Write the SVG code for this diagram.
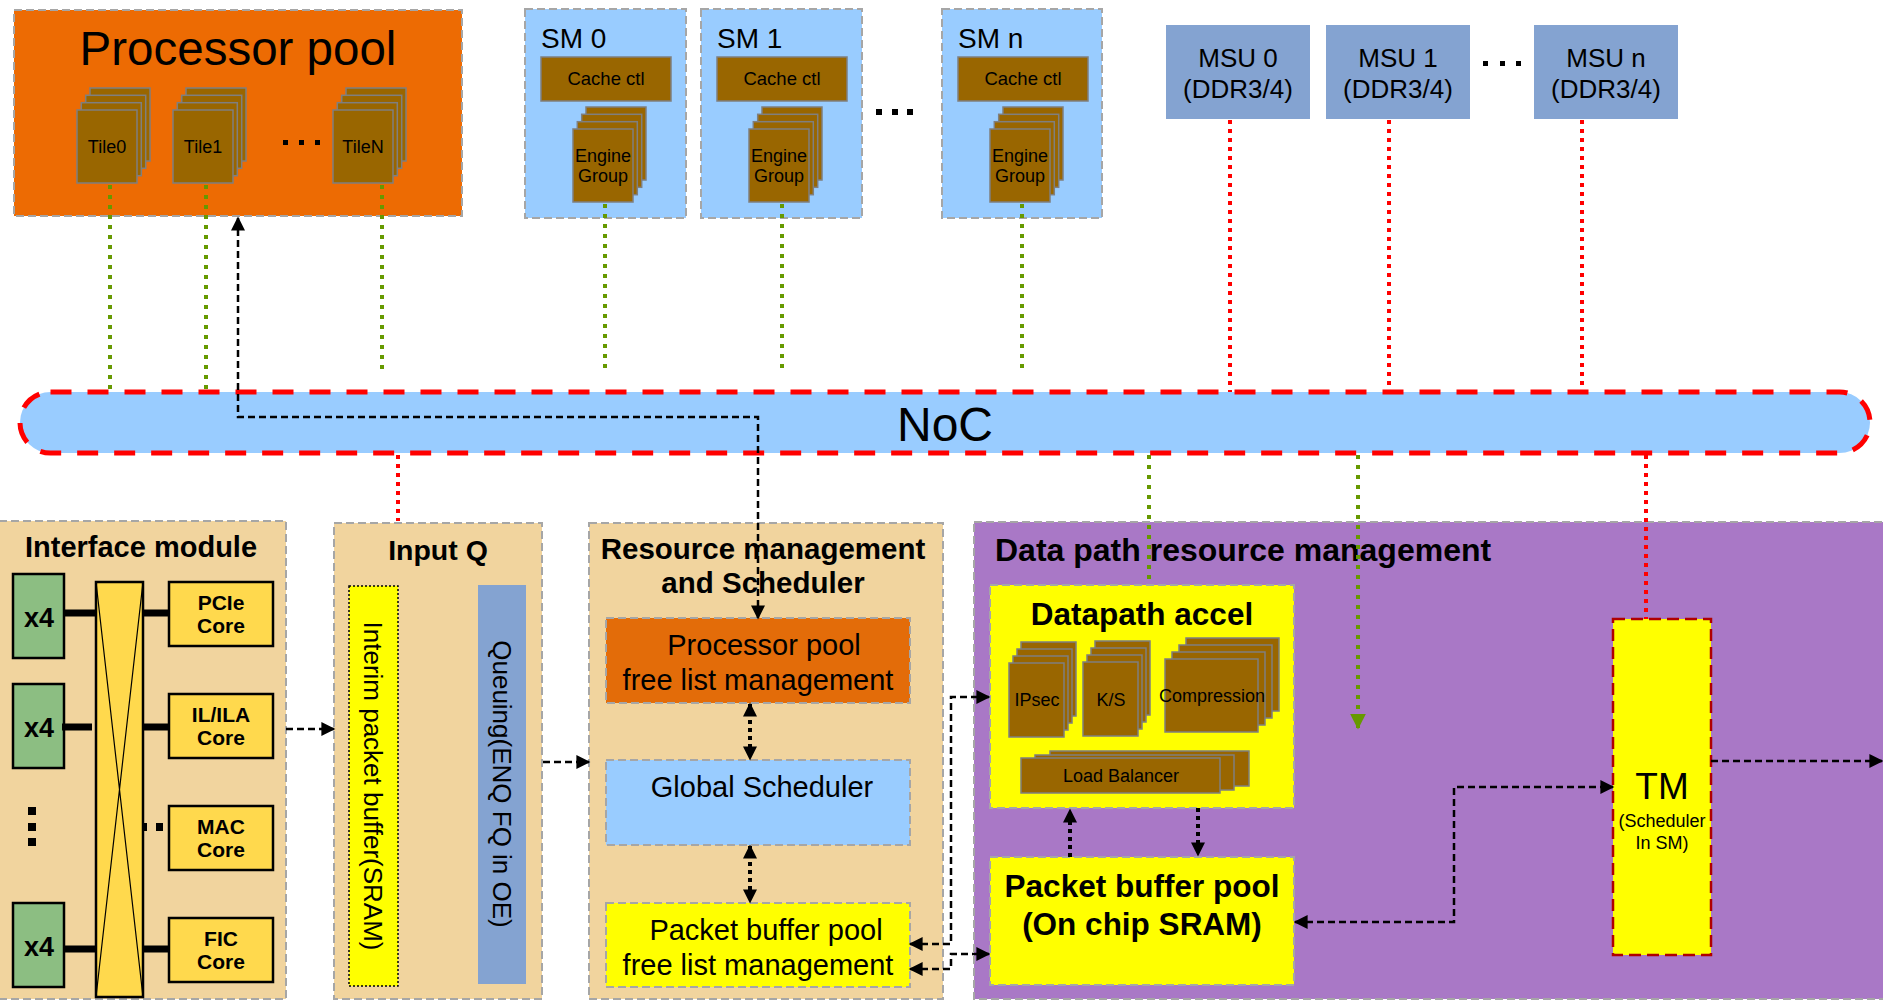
<svg xmlns="http://www.w3.org/2000/svg" width="1883" height="1001" viewBox="0 0 1883 1001">
<defs>
<style>
text{font-family:"Liberation Sans",Arial,sans-serif;fill:#000}
.b{font-weight:bold}
.c{text-anchor:middle}
.gbox{stroke:#A6A6A6;stroke-width:2;stroke-dasharray:8 4}
.brown rect,rect.brown{fill:#996600;stroke:#7F7F7F;stroke-width:1.5}
.gdot{stroke:#669900;stroke-width:4;stroke-dasharray:4 6;fill:none}
.rdot{stroke:#FF0000;stroke-width:4;stroke-dasharray:4 5;fill:none}
.dash{stroke:#000;stroke-width:2.5;stroke-dasharray:7 4;fill:none}
.dots{stroke:#000;stroke-width:4;stroke-dasharray:4 4;fill:none}
.thick{stroke:#000;stroke-width:7;fill:none}
.x4{fill:#8CBE82;stroke:#000;stroke-width:2.5}
.core{fill:#FFD94D;stroke:#000;stroke-width:2.5}
.dot{fill:#000}
</style>
<marker id="ah" viewBox="0 0 10 10" refX="9" refY="5" markerUnits="userSpaceOnUse" markerWidth="16" markerHeight="14" orient="auto-start-reverse"><path d="M0,0L10,5L0,10z" fill="#000"/></marker>
<marker id="ahg" viewBox="0 0 10 10" refX="9" refY="5" markerUnits="userSpaceOnUse" markerWidth="16" markerHeight="16" orient="auto"><path d="M0,0L10,5L0,10z" fill="#669900"/></marker>
<g id="stk" class="brown"><rect x="13" y="-22" width="60" height="73"/><rect x="8.7" y="-14.7" width="60" height="73"/><rect x="4.3" y="-7.3" width="60" height="73"/><rect x="0" y="0" width="60" height="73"/></g>
<g id="stk55" class="brown"><rect x="12" y="-21" width="55" height="74"/><rect x="8" y="-14" width="55" height="74"/><rect x="4" y="-7" width="55" height="74"/><rect x="0" y="0" width="55" height="74"/></g>
</defs>

<g id="processor-pool">
<rect x="14" y="10" width="448" height="206" fill="#ED6B03" class="gbox"/>
<text x="238" y="65" font-size="47.5" class="c">Processor pool</text>
<use href="#stk" x="77" y="110"/><text x="107" y="153" font-size="18" class="c">Tile0</text>
<use href="#stk" x="173" y="110"/><text x="203" y="153" font-size="18" class="c">Tile1</text>
<use href="#stk" x="333" y="110"/><text x="363" y="153" font-size="18" class="c">TileN</text>
<rect class="dot" x="283" y="140" width="5" height="5"/><rect class="dot" x="299" y="140" width="5" height="5"/><rect class="dot" x="315" y="140" width="5" height="5"/>
</g>

<g id="sm0">
<rect x="525" y="9" width="161" height="209" fill="#99CCFF" class="gbox"/>
<text x="541" y="48" font-size="28">SM 0</text>
<rect class="brown" x="541" y="57" width="130" height="44"/>
<text x="606" y="85" font-size="18.5" class="c">Cache ctl</text>
<use href="#stk" x="573" y="129"/>
<text x="603" y="162" font-size="18" class="c">Engine</text><text x="603" y="182" font-size="18" class="c">Group</text>
</g>
<g id="sm1">
<rect x="701" y="9" width="161" height="209" fill="#99CCFF" class="gbox"/>
<text x="717" y="48" font-size="28">SM 1</text>
<rect class="brown" x="717" y="57" width="130" height="44"/>
<text x="782" y="85" font-size="18.5" class="c">Cache ctl</text>
<use href="#stk" x="749" y="129"/>
<text x="779" y="162" font-size="18" class="c">Engine</text><text x="779" y="182" font-size="18" class="c">Group</text>
</g>
<g id="sm-dots"><rect class="dot" x="876" y="109" width="6" height="6"/><rect class="dot" x="892" y="109" width="6" height="6"/><rect class="dot" x="907" y="109" width="6" height="6"/></g>
<g id="smn">
<rect x="942" y="9" width="160" height="209" fill="#99CCFF" class="gbox"/>
<text x="958" y="48" font-size="28">SM n</text>
<rect class="brown" x="958" y="57" width="130" height="44"/>
<text x="1023" y="85" font-size="18.5" class="c">Cache ctl</text>
<use href="#stk" x="990" y="129"/>
<text x="1020" y="162" font-size="18" class="c">Engine</text><text x="1020" y="182" font-size="18" class="c">Group</text>
</g>

<g id="msu0"><rect x="1166" y="25" width="144" height="94" fill="#84A3D1"/><text x="1238" y="67" font-size="26" class="c">MSU 0</text><text x="1238" y="98" font-size="26" class="c">(DDR3/4)</text></g>
<g id="msu1"><rect x="1326" y="25" width="144" height="94" fill="#84A3D1"/><text x="1398" y="67" font-size="26" class="c">MSU 1</text><text x="1398" y="98" font-size="26" class="c">(DDR3/4)</text></g>
<g id="msu-dots"><rect class="dot" x="1483" y="61" width="5" height="5"/><rect class="dot" x="1500" y="61" width="5" height="5"/><rect class="dot" x="1516" y="61" width="5" height="5"/></g>
<g id="msun"><rect x="1534" y="25" width="144" height="94" fill="#84A3D1"/><text x="1606" y="67" font-size="26" class="c">MSU n</text><text x="1606" y="98" font-size="26" class="c">(DDR3/4)</text></g>

<g id="noc">
<rect x="20" y="392" width="1850" height="61" rx="30.5" fill="#99CCFF" stroke="#FF0000" stroke-width="5" stroke-dasharray="21 16"/>
<text x="945" y="441" font-size="48" class="c">NoC</text>
</g>

<g id="interface-module">
<rect x="-1" y="521" width="287" height="478" fill="#F1D49E" class="gbox"/>
<text x="141" y="557" font-size="29" class="b c">Interface module</text>
<rect class="x4" x="13" y="574" width="51" height="84"/><text x="39" y="627" font-size="27" class="b c">x4</text>
<rect class="x4" x="13" y="684" width="51" height="84"/><text x="39" y="737" font-size="27" class="b c">x4</text>
<rect class="x4" x="13" y="903" width="51" height="84"/><text x="39" y="956" font-size="27" class="b c">x4</text>
<rect class="dot" x="28" y="807" width="8" height="8"/><rect class="dot" x="28" y="823" width="8" height="8"/><rect class="dot" x="28" y="838" width="8" height="8"/>
<path class="thick" d="M64 613H96M62 727H92M64 949H96M143 613H172M138 727H168M143 949H172"/>
<rect class="dot" x="140" y="823" width="7" height="8"/><rect class="dot" x="156" y="823" width="7" height="8"/>
<rect class="core" x="96" y="582" width="47" height="415"/>
<path d="M96 582L143 997M143 582L96 997" stroke="#000" stroke-width="1.2"/>
<rect class="core" x="169" y="582" width="104" height="64"/><text x="221" y="610" font-size="21" class="b c">PCIe</text><text x="221" y="633" font-size="21" class="b c">Core</text>
<rect class="core" x="169" y="694" width="104" height="64"/><text x="221" y="722" font-size="21" class="b c">IL/ILA</text><text x="221" y="745" font-size="21" class="b c">Core</text>
<rect class="core" x="169" y="806" width="104" height="64"/><text x="221" y="834" font-size="21" class="b c">MAC</text><text x="221" y="857" font-size="21" class="b c">Core</text>
<rect class="core" x="169" y="918" width="104" height="64"/><text x="221" y="946" font-size="21" class="b c">FIC</text><text x="221" y="969" font-size="21" class="b c">Core</text>
</g>

<g id="input-q">
<rect x="334" y="523" width="208" height="476" fill="#F1D49E" class="gbox"/>
<text x="438" y="560" font-size="28.5" class="b c">Input Q</text>
<rect x="349" y="586" width="49" height="400" fill="#FFFF00" stroke="#000" stroke-width="1.5" stroke-dasharray="2 2"/>
<text transform="translate(373 786) rotate(90)" font-size="26" class="c" dominant-baseline="central">Interim packet buffer(SRAM)</text>
<rect x="478" y="585" width="48" height="399" fill="#84A3D1"/>
<text transform="translate(502 784) rotate(90)" font-size="26" class="c" dominant-baseline="central">Queuing(ENQ FQ in OE)</text>
</g>

<g id="resource-management">
<rect x="589" y="523" width="354" height="476" fill="#F1D49E" class="gbox"/>
<text x="763" y="559" font-size="29.5" class="b c">Resource management</text>
<text x="763" y="593" font-size="29.5" class="b c">and Scheduler</text>
</g>
<g id="pp-free-list"><rect x="606" y="618" width="304" height="85" fill="#E36C09" class="gbox"/><text x="764" y="655" font-size="29" class="c">Processor pool</text><text x="758" y="690" font-size="29" class="c">free list management</text></g>
<g id="global-scheduler"><rect x="606" y="760" width="304" height="85" fill="#99CCFF" class="gbox"/><text x="762" y="797" font-size="29" class="c">Global Scheduler</text></g>
<g id="pb-free-list"><rect x="606" y="903" width="304" height="84" fill="#FFFF00" class="gbox"/><text x="766" y="940" font-size="29" class="c">Packet buffer pool</text><text x="758" y="975" font-size="29" class="c">free list management</text></g>

<g id="datapath-rm">
<rect x="974" y="522" width="920" height="477" fill="#A978C6" class="gbox"/>
<text x="995" y="561" font-size="32" class="b">Data path resource management</text>
</g>
<g id="datapath-accel">
<rect x="990" y="585" width="304" height="223" fill="#FFFF00" class="gbox"/>
<text x="1142" y="625" font-size="31.5" class="b c">Datapath accel</text>
<use href="#stk55" x="1009" y="663"/><text x="1037" y="706" font-size="18" class="c">IPsec</text>
<use href="#stk55" x="1083" y="662"/><text x="1111" y="706" font-size="18" class="c">K/S</text>
<g class="brown"><rect x="1186" y="638" width="93" height="73"/><rect x="1179" y="645" width="93" height="73"/><rect x="1172" y="652" width="93" height="73"/><rect x="1165" y="659" width="93" height="73"/></g>
<text x="1212" y="702" font-size="18" class="c">Compression</text>
<g class="brown"><rect x="1050" y="751" width="199" height="35"/><rect x="1035" y="755" width="199" height="35"/><rect x="1021" y="758" width="199" height="35"/></g>
<text x="1121" y="782" font-size="18" class="c">Load Balancer</text>
</g>
<g id="packet-buffer-pool">
<rect x="990" y="857" width="304" height="128" fill="#FFFF00" class="gbox"/>
<text x="1142" y="897" font-size="31.5" class="b c">Packet buffer pool</text>
<text x="1142" y="935" font-size="31.5" class="b c">(On chip SRAM)</text>
</g>
<g id="tm">
<rect x="1613" y="619" width="98" height="336" fill="#FFFF00" stroke="#B00000" stroke-width="2.5" stroke-dasharray="12 6"/>
<text x="1662" y="799" font-size="37" class="c">TM</text>
<text x="1662" y="827" font-size="18" class="c">(Scheduler</text>
<text x="1662" y="849" font-size="18" class="c">In SM)</text>
</g>

<g id="connectors">
<path class="gdot" d="M110 185V392M206 185V392M382 185V372M605 204V372M782 204V372M1022 204V372M1149 455V580"/>
<path class="gdot" d="M1358 455V728" marker-end="url(#ahg)"/>
<path class="rdot" d="M1230 120V392M1389 120V392M1582 120V392M398 455V521M1646 455V619"/>
<path class="dash" d="M758 618V417H238V218" marker-start="url(#ah)" marker-end="url(#ah)"/>
<path class="dash" d="M286 729H334" marker-end="url(#ah)"/>
<path class="dash" d="M543 762H589" marker-end="url(#ah)"/>
<path class="dash" d="M910 944H951V697H989" marker-start="url(#ah)" marker-end="url(#ah)"/>
<path class="dash" d="M910 969H951V954H989" marker-start="url(#ah)" marker-end="url(#ah)"/>
<path class="dash" d="M1295 922H1454V787H1613" marker-start="url(#ah)" marker-end="url(#ah)"/>
<path class="dash" d="M1711 761H1882" marker-end="url(#ah)"/>
<path class="dots" d="M750 704V759" marker-start="url(#ah)" marker-end="url(#ah)"/>
<path class="dots" d="M750 846V902" marker-start="url(#ah)" marker-end="url(#ah)"/>
<path class="dots" d="M1070 857V810" marker-end="url(#ah)"/>
<path class="dots" d="M1198 808V855" marker-end="url(#ah)"/>
</g>
</svg>
